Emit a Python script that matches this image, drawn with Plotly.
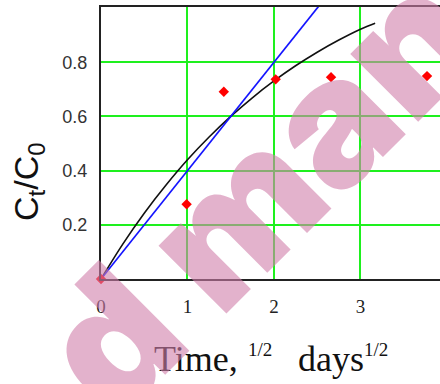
import plotly.graph_objects as go

# measured points (red diamonds)
obs_x = [0.0, 0.99, 1.42, 2.02, 2.66, 3.77]
obs_y = [0.0, 0.276, 0.691, 0.737, 0.745, 0.749]

# black fitted curve
fit_x = [0.0, 0.25, 0.5, 0.75, 1.0, 1.25, 1.5, 1.75, 2.0, 2.25, 2.5, 2.75, 3.0, 3.17]
fit_y = [0.0, 0.128, 0.243, 0.346, 0.440, 0.524, 0.600, 0.669, 0.731, 0.787, 0.837, 0.882, 0.922, 0.944]

# blue straight line
lin_x = [0.0, 2.6]
lin_y = [0.0, 1.04]

x_ticks = [0, 1, 2, 3]
x_tick_text = ["0", "1", "2", "3"]
y_ticks = [0.2, 0.4, 0.6, 0.8]
y_tick_text = ["0.2", "0.4", "0.6", "0.8"]

fig = go.Figure()
fig.add_trace(go.Scatter(x=fit_x, y=fit_y, mode="lines",
                         line=dict(color="#111111", width=1.6, shape="spline"),
                         hoverinfo="skip", showlegend=False))
fig.add_trace(go.Scatter(x=lin_x, y=lin_y, mode="lines",
                         line=dict(color="#1414ff", width=1.7),
                         hoverinfo="skip", showlegend=False))
fig.add_trace(go.Scatter(x=obs_x, y=obs_y, mode="markers",
                         marker=dict(symbol="diamond", size=8, color="#ff0000"),
                         cliponaxis=False, showlegend=False))

grid = "#1ef01e"
fig.update_xaxes(range=[0, 3.92], tickvals=x_ticks, ticktext=x_tick_text,
                 showgrid=True, gridcolor=grid, gridwidth=2, zeroline=False,
                 showline=True, linecolor="#222222", linewidth=2, mirror=True,
                 ticks="outside", ticklen=9, tickcolor="rgba(0,0,0,0)",
                 tickfont=dict(family="Liberation Serif", size=19, color="#222222"))
fig.update_yaxes(range=[0, 1.004], tickvals=y_ticks, ticktext=y_tick_text,
                 showgrid=True, gridcolor=grid, gridwidth=2, zeroline=False,
                 showline=True, linecolor="#222222", linewidth=2,
                 ticks="outside", ticklen=8, tickcolor="rgba(0,0,0,0)",
                 tickfont=dict(family="Liberation Sans", size=18, color="#333333"))

L, W, T, H = 101, 339, 7, 272
def px(xp):
    return (xp - L) / W
def py(yp):
    return (T + H - yp) / H

annots = []
# y title
annots.append(dict(xref="paper", yref="paper", x=px(29), y=py(182),
                   text="C<sub>t</sub>/C<sub>0</sub>", showarrow=False, textangle=-90,
                   xanchor="center", yanchor="middle",
                   font=dict(family="Liberation Sans", size=34, color="#111111")))
# x title pieces
annots.append(dict(xref="paper", yref="paper", x=px(152), y=py(381), text="Time,",
                   showarrow=False, xanchor="left", yanchor="bottom",
                   font=dict(family="Liberation Serif", size=36, color="#111111")))
annots.append(dict(xref="paper", yref="paper", x=px(246), y=py(349), text="1/2",
                   showarrow=False, xanchor="left", yanchor="middle",
                   font=dict(family="Liberation Serif", size=19, color="#111111")))
annots.append(dict(xref="paper", yref="paper", x=px(296), y=py(381), text="days",
                   showarrow=False, xanchor="left", yanchor="bottom",
                   font=dict(family="Liberation Serif", size=36, color="#111111")))
annots.append(dict(xref="paper", yref="paper", x=px(362), y=py(349), text="1/2",
                   showarrow=False, xanchor="left", yanchor="middle",
                   font=dict(family="Liberation Serif", size=19, color="#111111")))
# watermark
annots.append(dict(xref="paper", yref="paper", x=px(258), y=py(190), text="d man",
                   showarrow=False, textangle=-45, xanchor="center", yanchor="middle",
                   font=dict(family="Inter", size=176, weight=900,
                             color="rgba(208,127,170,0.6)")))

fig.update_layout(width=440, height=384, margin=dict(l=101, r=0, t=7, b=105),
                  paper_bgcolor="white", plot_bgcolor="white",
                  annotations=annots, showlegend=False)
fig.write_html("out.html", config={"displayModeBar": False},
               post_script="document.body.style.margin='0';")
